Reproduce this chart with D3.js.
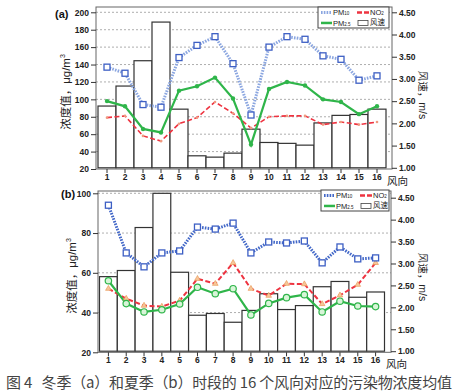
<!DOCTYPE html>
<html><head><meta charset="utf-8">
<script src="https://cdn.jsdelivr.net/npm/d3@7"></script>
<style>body{margin:0;background:#fff}svg{display:block}</style>
</head><body>
<script>
const categories = ["1","2","3","4","5","6","7","8","9","10","11","12","13","14","15","16"];
// Winter (a)
const winterPM10 = [137,130,94,91,148,162,172,141,82,160,172,169,150,146,122,127];
const winterPM25 = [98,92,66,62,110,115,125,101,48,112,120,116,100,97,83,92];
const winterNO2  = [79,81,58,52,72,79,97,84,67,80,81,81,71,74,71,74];
const winterWind = [2.39,2.84,3.41,4.28,2.32,1.27,1.24,1.33,1.87,1.57,1.55,1.51,2.01,2.18,2.20,2.32];
// Summer (b)
const summerPM10 = [94,70,63,70,71,83,82,85,70,75.5,75,76,65,73,67,67.5];
const summerPM25 = [56,44.5,40.3,41.4,44.3,52.7,49.5,52,38.8,44.6,47.5,49,40.3,45.7,43.3,43];
const summerNO2  = [52,47,43.5,43,46,57,54.5,65,52,48.5,54.5,54.3,44.3,48.7,54,65];
const summerWind = [2.70,2.84,3.82,4.60,2.80,1.82,1.86,1.66,1.93,2.31,1.95,2.04,2.47,2.59,2.23,2.35];
const leftTicksA = [20,40,60,80,100,120,140,160,180,200];
const leftTicksB = [20,40,60,80,100];
const rightTicks = [1.0,1.5,2.0,2.5,3.0,3.5,4.0,4.5];

const W=456,H=392;
const svg=d3.select("body").append("svg").attr("width",W).attr("height",H);
const FONT="'Liberation Sans', Arial, sans-serif";
const CJK="'Noto Sans CJK SC', sans-serif";

function panel(cfg){
  const g=svg.append("g");
  const x=d3.scaleBand().domain(categories).range([cfg.bx0,cfg.bx1]).padding(0);
  const yL=d3.scaleLinear().domain(cfg.leftDomain).range([cfg.yBottom,cfg.yTop]);
  const yR=d3.scaleLinear().domain([1,4.5]).range([cfg.rBottom,cfg.rTop]);
  const cx=d=>x(d)+x.bandwidth()/2;

  // grid
  g.append("g").selectAll("line").data(cfg.leftTicks.filter(t=>t>cfg.leftDomain[0])).join("line")
    .attr("x1",cfg.fx0).attr("x2",cfg.fx1).attr("y1",d=>yL(d)).attr("y2",d=>yL(d))
    .attr("stroke","#999").attr("stroke-width",0.8).attr("stroke-dasharray","2,2");

  // bars
  g.append("g").selectAll("rect").data(categories).join("rect")
    .attr("x",d=>x(d)).attr("width",x.bandwidth())
    .attr("y",(d,i)=>yR(cfg.wind[i])).attr("height",(d,i)=>cfg.rBottom-yR(cfg.wind[i]))
    .attr("fill","#fff").attr("stroke","#333").attr("stroke-width",1.2);

  // lines
  const line=arr=>d3.line().x((d,i)=>cx(categories[i])).y(d=>yL(d))(arr);
  g.append("path").attr("d",line(cfg.no2)).attr("fill","none").attr("stroke","#ee3340")
    .attr("stroke-width",cfg.summer?2:1.6).attr("stroke-dasharray","5,2.5");
  g.append("path").attr("d",line(cfg.pm10)).attr("fill","none").attr("stroke",cfg.pm10Color)
    .attr("stroke-width",3).attr("stroke-dasharray","1.6,1.2");
  g.append("path").attr("d",line(cfg.pm25)).attr("fill","none").attr("stroke","#2fb54a")
    .attr("stroke-width",2.2);

  // markers
  if(cfg.summer){
    g.append("g").selectAll("path").data(cfg.no2).join("path")
      .attr("d",d3.symbol(d3.symbolTriangle,14))
      .attr("transform",(d,i)=>`translate(${cx(categories[i])},${yL(d)})`)
      .attr("fill","#f6c79a").attr("stroke","#e8904a").attr("stroke-width",0.6);
    g.append("g").selectAll("circle").data(cfg.pm25).join("circle")
      .attr("cx",(d,i)=>cx(categories[i])).attr("cy",d=>yL(d)).attr("r",3.2)
      .attr("fill","#d8f5d8").attr("stroke","#2fb54a").attr("stroke-width",1.2);
  } else {
    g.append("g").selectAll("circle").data(cfg.no2).join("circle")
      .attr("cx",(d,i)=>cx(categories[i])).attr("cy",d=>yL(d)).attr("r",1.3)
      .attr("fill","#f09a80");
    g.append("g").selectAll("circle").data(cfg.pm25).join("circle")
      .attr("cx",(d,i)=>cx(categories[i])).attr("cy",d=>yL(d)).attr("r",2.2)
      .attr("fill","#2fb54a");
  }
  g.append("g").selectAll("rect").data(cfg.pm10).join("rect")
    .attr("x",(d,i)=>cx(categories[i])-3).attr("y",d=>yL(d)-3).attr("width",6).attr("height",6)
    .attr("fill","#fff").attr("stroke","#3d5fc4").attr("stroke-width",1.3);

  // frame
  g.append("rect").attr("x",cfg.fx0).attr("y",cfg.fy0).attr("width",cfg.fx1-cfg.fx0)
    .attr("height",cfg.yBottom-cfg.fy0).attr("fill","none").attr("stroke","#666").attr("stroke-width",1);

  // axes
  const ax=g.append("g").attr("transform",`translate(0,${cfg.yBottom})`)
    .call(d3.axisBottom(x).tickSize(4).tickPadding(1).tickSizeOuter(0));
  const al=g.append("g").attr("transform",`translate(${cfg.fx0},0)`)
    .call(d3.axisLeft(yL).tickValues(cfg.leftTicks).tickSize(5).tickPadding(2).tickSizeOuter(0));
  const ar=g.append("g").attr("transform",`translate(${cfg.fx1},0)`)
    .call(d3.axisRight(yR).tickValues(rightTicks).tickFormat(d3.format(".2f")).tickSize(5).tickPadding(2).tickSizeOuter(0));
  [ax,al,ar].forEach(a=>{
    a.select(".domain").remove();
    a.selectAll("line").attr("stroke","#333");
    a.selectAll("text").attr("font-family",FONT).attr("font-size",8.5).attr("font-weight","bold").attr("fill","#222");
  });

  g.append("text").attr("x",cfg.fx1-5).attr("y",cfg.yBottom+16).attr("font-family",CJK)
    .attr("font-size",10.5).attr("fill","#222").text("风向");

  g.append("text").attr("x",cfg.tagX).attr("y",cfg.tagY).attr("font-family",FONT)
    .attr("font-size",11).attr("font-weight","bold").attr("fill","#111").text(cfg.tag);

  // y labels
  const ly=g.append("text").attr("transform",`translate(${cfg.lLabelX},${cfg.lLabelY}) rotate(-90)`)
    .attr("text-anchor","middle").attr("font-size",11.5).attr("fill","#222");
  ly.append("tspan").attr("font-family",CJK).text("浓度值，");
  ly.append("tspan").attr("font-family",FONT).text("μg/m");
  ly.append("tspan").attr("font-family",FONT).attr("font-size",7).attr("dy",-5).text("3");
  const ry=g.append("text").attr("transform",`translate(${cfg.rLabelX},${cfg.rLabelY}) rotate(90)`)
    .attr("text-anchor","middle").attr("font-size",10.5).attr("fill","#222");
  ry.append("tspan").attr("font-family",CJK).text("风速，");
  ry.append("tspan").attr("font-family",FONT).text("m/s");

  // legend
  const L=g.append("g").attr("transform",`translate(${cfg.legX},${cfg.legY})`);
  L.append("rect").attr("width",cfg.legW).attr("height",cfg.legH).attr("fill","#fff").attr("stroke","#444");
  const r1=cfg.legH*0.26, r2=cfg.legH*0.76;
  const fs=7.5;
  L.append("line").attr("x1",3).attr("x2",14).attr("y1",r1).attr("y2",r1).attr("stroke",cfg.pm10Color)
    .attr("stroke-width",3).attr("stroke-dasharray","1.6,1.2");
  const t1=L.append("text").attr("x",15).attr("y",r1+3).attr("font-family",FONT).attr("font-size",fs).attr("fill","#222");
  t1.append("tspan").text("PM"); t1.append("tspan").attr("font-size",4.5).text("10");
  L.append("line").attr("x1",39).attr("x2",51).attr("y1",r1).attr("y2",r1).attr("stroke","#ee3340")
    .attr("stroke-width",2.5).attr("stroke-dasharray","5,2");
  const t2=L.append("text").attr("x",52).attr("y",r1+3).attr("font-family",FONT).attr("font-size",fs).attr("fill","#222");
  t2.append("tspan").text("NO"); t2.append("tspan").attr("font-size",4.5).text("2");
  L.append("line").attr("x1",3).attr("x2",14).attr("y1",r2).attr("y2",r2).attr("stroke","#2fb54a").attr("stroke-width",2.5);
  const t3=L.append("text").attr("x",15).attr("y",r2+3).attr("font-family",FONT).attr("font-size",fs).attr("fill","#222");
  t3.append("tspan").text("PM"); t3.append("tspan").attr("font-size",4.5).text("2.5");
  L.append("rect").attr("x",40).attr("y",r2-2.5).attr("width",10).attr("height",5).attr("fill","#fff").attr("stroke","#444").attr("stroke-width",0.8);
  L.append("text").attr("x",52).attr("y",r2+2.5).attr("font-family",CJK).attr("font-size",fs).attr("fill","#222").text("风速");
}

panel({
  tag:"(a)",tagX:55,tagY:18,
  bx0:98,bx1:386,fx0:96,fx1:392,fy0:7,yTop:12.3,yBottom:169,rTop:12.3,rBottom:167.8,
  leftDomain:[20,200],leftTicks:leftTicksA,
  pm10:winterPM10,pm25:winterPM25,no2:winterNO2,wind:winterWind,
  pm10Color:"#8ba6e0",summer:false,
  lLabelX:70,lLabelY:92,rLabelX:419,rLabelY:95,
  legX:318,legY:7,legW:71,legH:21
});
panel({
  tag:"(b)",tagX:61,tagY:198,
  bx0:99.5,bx1:384.5,fx0:98,fx1:391,fy0:191,yTop:193.3,yBottom:352.3,rTop:197.7,rBottom:351.2,
  leftDomain:[20,100],leftTicks:leftTicksB,
  pm10:summerPM10,pm25:summerPM25,no2:summerNO2,wind:summerWind,
  pm10Color:"#4368c8",summer:true,
  lLabelX:76,lLabelY:276,rLabelX:419,rLabelY:277,
  legX:321,legY:190,legW:68,legH:21
});

svg.append("text").attr("x",6).attr("y",388).attr("font-family",CJK).attr("font-size",15)
  .attr("fill","#444").attr("xml:space","preserve").style("white-space","pre")
  .attr("textLength",446).attr("lengthAdjust","spacing")
  .text("图 4   冬季（a）和夏季（b）时段的 16 个风向对应的污染物浓度均值");
</script>
</body></html>
